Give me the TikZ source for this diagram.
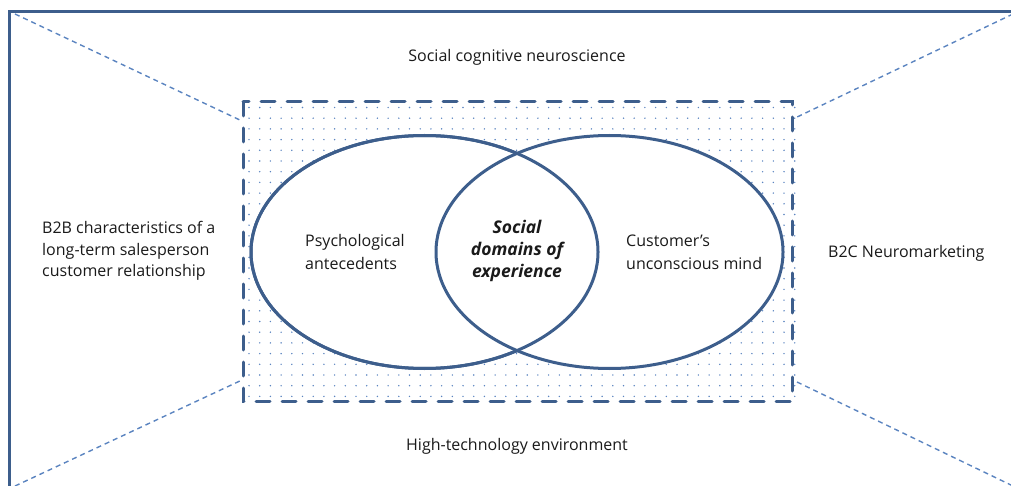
\documentclass[tikz,border=0pt]{standalone}
\usepackage{fontspec}
\setmainfont{Open Sans}
\usetikzlibrary{shapes.geometric}
\definecolor{frameblue}{HTML}{3D5E8C}
\definecolor{lightblue}{HTML}{5B84C0}
\definecolor{txt}{HTML}{1A1A1A}
\tikzset{
  lbl/.style={font=\fontsize{16}{21.5}\selectfont, text=txt, inner sep=0pt},
  diag/.style={draw=lightblue, line width=1.4pt, dash pattern=on 5pt off 4pt},
  venn/.style={ellipse, draw=frameblue, line width=3pt, minimum width=347pt, minimum height=233pt, inner sep=0pt},
}
\begin{document}
\begin{tikzpicture}[x=1pt,y=-1pt]
\useasboundingbox (0,0) rectangle (1011,486);
\clip (0,0) rectangle (1011,486);
% outer frame (extends beyond right and bottom)
\draw[frameblue, line width=3pt] (9,520) -- (9,12) -- (1040,12);
% coordinates for diagonals
\coordinate (tl1) at (15,14);
\coordinate (tl2) at (242,121);
\coordinate (tr1) at (1013,14);
\coordinate (tr2) at (795,118);
\coordinate (bl1) at (15,486);
\coordinate (bl2) at (242,380);
\coordinate (br1) at (797,382);
\coordinate (br2) at (1013,486);
\draw[diag] (tl1) -- (tl2);
\draw[diag] (tr1) -- (tr2);
\draw[diag] (bl1) -- (bl2);
\draw[diag] (br1) -- (br2);
% dotted inner rectangle
\foreach \i in {0,...,51} {
  \foreach \j in {0,...,27} {
    \fill[lightblue] ({249+\i*10.7},{107.5+\j*10.7}) circle (0.8pt);
  }
}
\draw[frameblue, line width=3pt, dash pattern=on 14pt off 12pt, line cap=round] (243,102) rectangle (792,401);
% ellipses
\node[venn, fill=white] (L) at (424.5,252) {};
\node[venn, fill=white] (R) at (609.5,252) {};
\node[venn] at (L) {};
% labels
\node[lbl] (top) at (517,57) {Social cognitive neuroscience};
\node[lbl] (bot) at (517,446) {High-technology environment};
\node[lbl, align=left, anchor=west] (b2b) at (42,251) {B2B characteristics of a\\long-term salesperson\\customer relationship};
\node[lbl, anchor=west] (b2c) at (828,253) {B2C Neuromarketing};
\node[lbl, align=left, anchor=west, font=\fontsize{16}{23}\selectfont] (psy) at (305,252) {Psychological\\antecedents};
\node[lbl, align=left, anchor=west, font=\fontsize{16}{23}\selectfont] (cus) at (626,252) {Customer's\\unconscious mind};
\node[lbl, align=center, font=\fontsize{17.5}{22}\selectfont\bfseries\itshape] (soc) at (517,251) {Social\\domains of\\experience};
\end{tikzpicture}
\end{document}
